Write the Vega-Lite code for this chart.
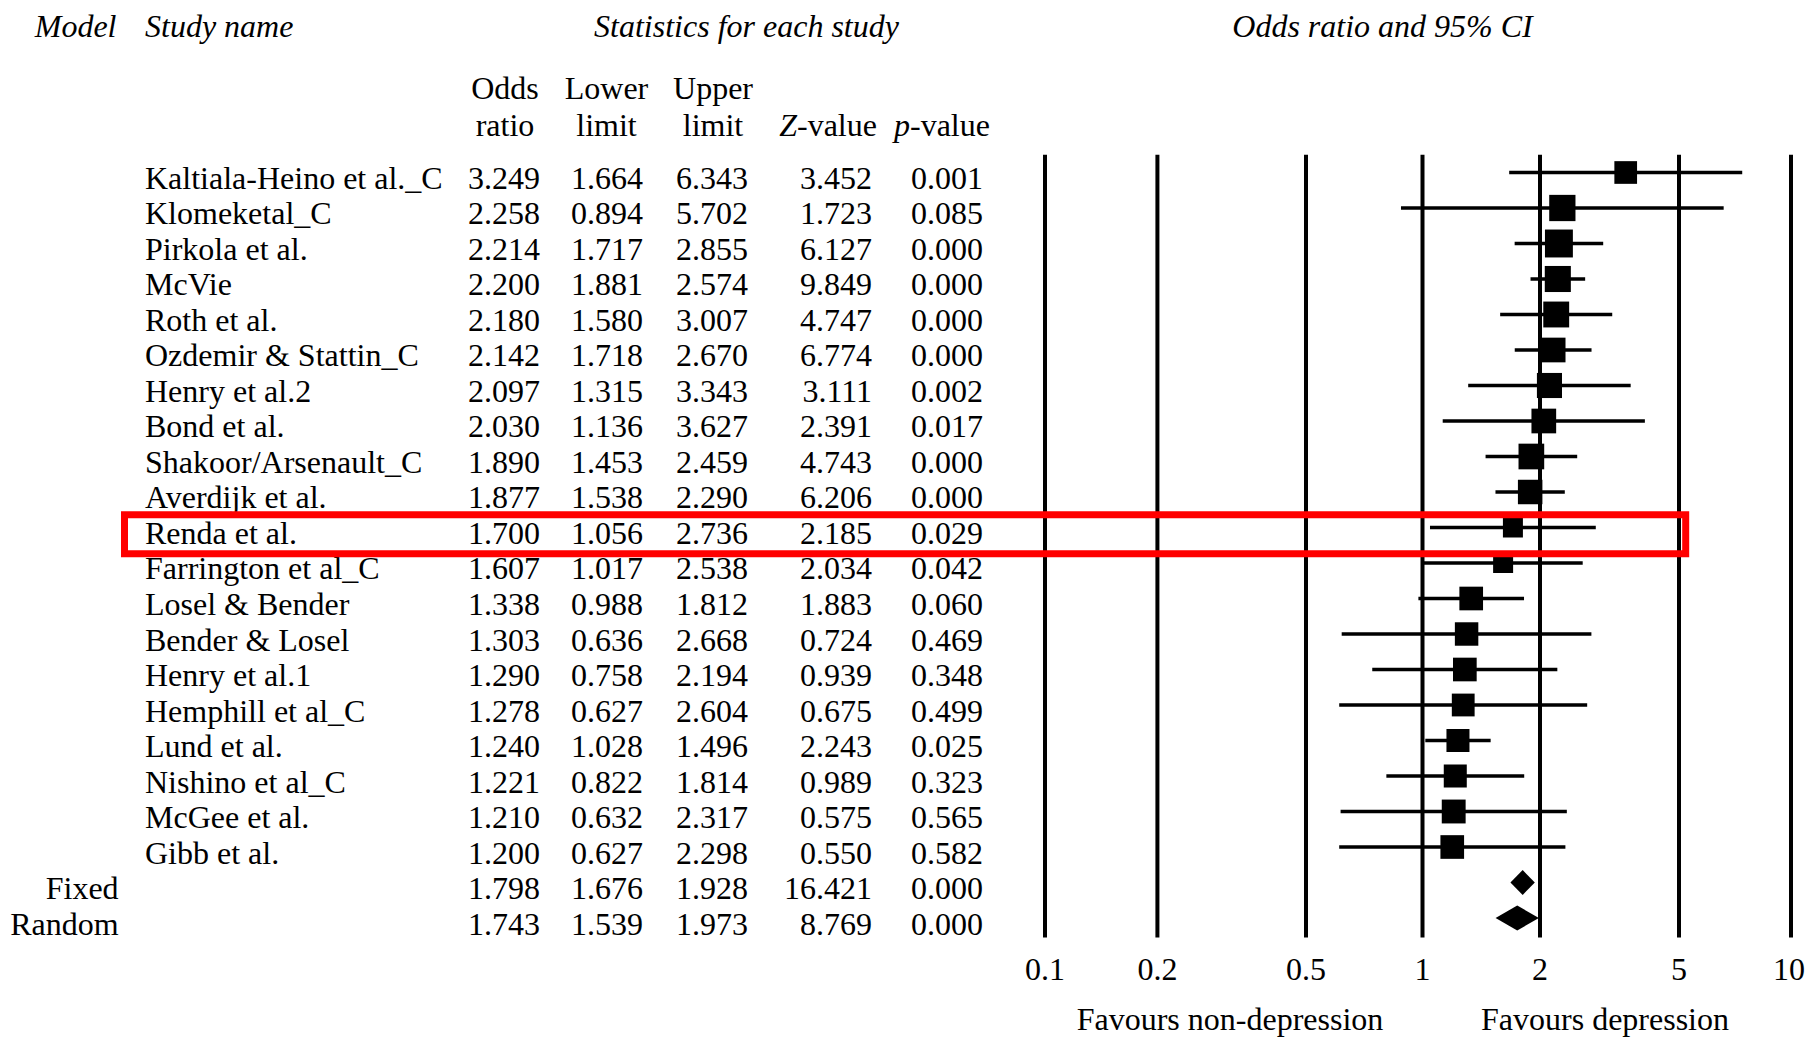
{
  "$schema": "https://vega.github.io/schema/vega-lite/v6.json",
  "width": 1808,
  "height": 1037,
  "autosize": "none",
  "padding": 0,
  "background": "white",
  "config": {
    "view": {"stroke": null},
    "text": {"font": "Liberation Serif", "fontSize": 32, "color": "black"}
  },
  "data": {
    "values": [
      {"row": 1, "study": "Kaltiala-Heino et al._C", "or": 3.249, "lower": 1.664, "upper": 6.343, "z": 3.452, "p": 0.001, "weight": 51.5},
      {"row": 2, "study": "Klomeketal_C", "or": 2.258, "lower": 0.894, "upper": 5.702, "z": 1.723, "p": 0.085, "weight": 69},
      {"row": 3, "study": "Pirkola et al.", "or": 2.214, "lower": 1.717, "upper": 2.855, "z": 6.127, "p": 0.000, "weight": 78},
      {"row": 4, "study": "McVie", "or": 2.200, "lower": 1.881, "upper": 2.574, "z": 9.849, "p": 0.000, "weight": 68},
      {"row": 5, "study": "Roth et al.", "or": 2.180, "lower": 1.580, "upper": 3.007, "z": 4.747, "p": 0.000, "weight": 67},
      {"row": 6, "study": "Ozdemir & Stattin_C", "or": 2.142, "lower": 1.718, "upper": 2.670, "z": 6.774, "p": 0.000, "weight": 61},
      {"row": 7, "study": "Henry et al.2", "or": 2.097, "lower": 1.315, "upper": 3.343, "z": 3.111, "p": 0.002, "weight": 63},
      {"row": 8, "study": "Bond et al.", "or": 2.030, "lower": 1.136, "upper": 3.627, "z": 2.391, "p": 0.017, "weight": 61},
      {"row": 9, "study": "Shakoor/Arsenault_C", "or": 1.890, "lower": 1.453, "upper": 2.459, "z": 4.743, "p": 0.000, "weight": 66},
      {"row": 10, "study": "Averdijk et al.", "or": 1.877, "lower": 1.538, "upper": 2.290, "z": 6.206, "p": 0.000, "weight": 60},
      {"row": 11, "study": "Renda et al.", "or": 1.700, "lower": 1.056, "upper": 2.736, "z": 2.185, "p": 0.029, "weight": 40},
      {"row": 12, "study": "Farrington et al_C", "or": 1.607, "lower": 1.017, "upper": 2.538, "z": 2.034, "p": 0.042, "weight": 40},
      {"row": 13, "study": "Losel & Bender", "or": 1.338, "lower": 0.988, "upper": 1.812, "z": 1.883, "p": 0.060, "weight": 56},
      {"row": 14, "study": "Bender & Losel", "or": 1.303, "lower": 0.636, "upper": 2.668, "z": 0.724, "p": 0.469, "weight": 55},
      {"row": 15, "study": "Henry et al.1", "or": 1.290, "lower": 0.758, "upper": 2.194, "z": 0.939, "p": 0.348, "weight": 56},
      {"row": 16, "study": "Hemphill et al_C", "or": 1.278, "lower": 0.627, "upper": 2.604, "z": 0.675, "p": 0.499, "weight": 52},
      {"row": 17, "study": "Lund et al.", "or": 1.240, "lower": 1.028, "upper": 1.496, "z": 2.243, "p": 0.025, "weight": 53},
      {"row": 18, "study": "Nishino et al_C", "or": 1.221, "lower": 0.822, "upper": 1.814, "z": 0.989, "p": 0.323, "weight": 53},
      {"row": 19, "study": "McGee et al.", "or": 1.210, "lower": 0.632, "upper": 2.317, "z": 0.575, "p": 0.565, "weight": 57},
      {"row": 20, "study": "Gibb et al.", "or": 1.200, "lower": 0.627, "upper": 2.298, "z": 0.550, "p": 0.582, "weight": 56},
      {"row": 21, "model": "Fixed", "or": 1.798, "lower": 1.676, "upper": 1.928, "z": 16.421, "p": 0.000},
      {"row": 22, "model": "Random", "or": 1.743, "lower": 1.539, "upper": 1.973, "z": 8.769, "p": 0.000}
    ]
  },
  "resolve": {"scale": {"x": "independent"}},
  "layer": [
    {
      "layer": [
        {
          "data": {"values": [{"tick": 0.1, "label": "0.1"}, {"tick": 0.2, "label": "0.2"}, {"tick": 0.5, "label": "0.5"}, {"tick": 1, "label": "1"}, {"tick": 2, "label": "2"}, {"tick": 5, "label": "5"}, {"tick": 10, "label": "10"}]},
          "layer": [
            {
              "mark": {"type": "rule", "strokeWidth": 4, "color": "black"},
              "encoding": {
                "x": {"field": "tick", "type": "quantitative", "scale": {"type": "log", "domain": [0.1, 0.5, 1, 2, 5, 10], "range": [1045, 1306, 1422.5, 1540, 1679, 1791], "nice": false}, "axis": null},
                "y": {"datum": 0.5, "type": "quantitative", "scale": {"domain": [-3.859, 25.352], "range": [0, 1037], "nice": false, "zero": false}, "axis": null},
                "y2": {"datum": 22.55}
              }
            },
            {
              "transform": [{"filter": "datum.tick < 10"}],
              "mark": {"type": "text", "align": "center", "baseline": "alphabetic"},
              "encoding": {
                "x": {"field": "tick", "type": "quantitative", "scale": {"type": "log", "domain": [0.1, 0.5, 1, 2, 5, 10], "range": [1045, 1306, 1422.5, 1540, 1679, 1791], "nice": false}, "axis": null},
                "y": {"datum": 23.746, "type": "quantitative", "scale": {"domain": [-3.859, 25.352], "range": [0, 1037], "nice": false, "zero": false}, "axis": null},
                "text": {"field": "label"}
              }
            },
            {
              "transform": [{"filter": "datum.tick >= 10"}],
              "mark": {"type": "text", "align": "right", "baseline": "alphabetic", "dx": 14},
              "encoding": {
                "x": {"field": "tick", "type": "quantitative", "scale": {"type": "log", "domain": [0.1, 0.5, 1, 2, 5, 10], "range": [1045, 1306, 1422.5, 1540, 1679, 1791], "nice": false}, "axis": null},
                "y": {"datum": 23.746, "type": "quantitative", "scale": {"domain": [-3.859, 25.352], "range": [0, 1037], "nice": false, "zero": false}, "axis": null},
                "text": {"field": "label"}
              }
            }
          ]
        }
      ]
    },
    {
      "layer": [
        {
          "transform": [{"filter": "datum.row <= 20"}],
          "mark": {"type": "rule", "strokeWidth": 3.5, "color": "black"},
          "encoding": {
            "x": {"field": "lower", "type": "quantitative", "scale": {"type": "log", "domain": [0.1, 10], "range": [1019.5, 1821.5], "nice": false}, "axis": null},
            "x2": {"field": "upper"},
            "y": {"field": "row", "type": "quantitative", "scale": {"domain": [-3.859, 25.352], "range": [0, 1037], "nice": false, "zero": false}, "axis": null}
          }
        },
        {
          "transform": [{"filter": "datum.row <= 20"}],
          "mark": {"type": "point", "shape": "square", "filled": true, "opacity": 1, "color": "black", "strokeWidth": 0},
          "encoding": {
            "x": {"field": "or", "type": "quantitative", "scale": {"type": "log", "domain": [0.1, 10], "range": [1019.5, 1821.5], "nice": false}, "axis": null},
            "y": {"field": "row", "type": "quantitative", "scale": {"domain": [-3.859, 25.352], "range": [0, 1037], "nice": false, "zero": false}, "axis": null},
            "size": {"field": "weight", "type": "quantitative", "scale": {"domain": [0, 100], "range": [0, 1000]}, "legend": null}
          }
        },
        {
          "transform": [
            {"filter": "datum.row > 20"},
            {"fold": ["lower", "or", "upper"], "as": ["k", "v"]},
            {"calculate": "datum.row - (datum.k == 'or' ? 0.35 : 0)", "as": "ytop"},
            {"calculate": "datum.row + (datum.k == 'or' ? 0.35 : 0)", "as": "ybot"}
          ],
          "mark": {"type": "area", "color": "black", "opacity": 1},
          "encoding": {
            "x": {"field": "v", "type": "quantitative", "scale": {"type": "log", "domain": [0.1, 10], "range": [1019.5, 1821.5], "nice": false}, "axis": null},
            "y": {"field": "ytop", "type": "quantitative", "scale": {"domain": [-3.859, 25.352], "range": [0, 1037], "nice": false, "zero": false}, "axis": null},
            "y2": {"field": "ybot"},
            "detail": {"field": "model"}
          }
        }
      ]
    },
    {
      "layer": [
        {
          "transform": [{"filter": "isValid(datum.model)"}],
          "mark": {"type": "text", "align": "right", "baseline": "alphabetic", "dy": 16.5},
          "encoding": {
            "x": {"datum": 118.6, "type": "quantitative", "scale": {"domain": [0, 1808], "range": [0, 1808], "nice": false, "zero": false}, "axis": null},
            "y": {"field": "row", "type": "quantitative", "scale": {"domain": [-3.859, 25.352], "range": [0, 1037], "nice": false, "zero": false}, "axis": null},
            "text": {"field": "model"}
          }
        },
        {
          "transform": [{"filter": "isValid(datum.study)"}],
          "mark": {"type": "text", "align": "left", "baseline": "alphabetic", "dy": 16.5},
          "encoding": {
            "x": {"datum": 145, "type": "quantitative", "axis": null},
            "y": {"field": "row", "type": "quantitative", "axis": null},
            "text": {"field": "study"}
          }
        },
        {
          "mark": {"type": "text", "align": "right", "baseline": "alphabetic", "dy": 16.5},
          "encoding": {
            "x": {"datum": 540, "type": "quantitative", "axis": null},
            "y": {"field": "row", "type": "quantitative", "axis": null},
            "text": {"field": "or", "format": ".3f"}
          }
        },
        {
          "mark": {"type": "text", "align": "right", "baseline": "alphabetic", "dy": 16.5},
          "encoding": {
            "x": {"datum": 643, "type": "quantitative", "axis": null},
            "y": {"field": "row", "type": "quantitative", "axis": null},
            "text": {"field": "lower", "format": ".3f"}
          }
        },
        {
          "mark": {"type": "text", "align": "right", "baseline": "alphabetic", "dy": 16.5},
          "encoding": {
            "x": {"datum": 748, "type": "quantitative", "axis": null},
            "y": {"field": "row", "type": "quantitative", "axis": null},
            "text": {"field": "upper", "format": ".3f"}
          }
        },
        {
          "mark": {"type": "text", "align": "right", "baseline": "alphabetic", "dy": 16.5},
          "encoding": {
            "x": {"datum": 872, "type": "quantitative", "axis": null},
            "y": {"field": "row", "type": "quantitative", "axis": null},
            "text": {"field": "z", "format": ".3f"}
          }
        },
        {
          "mark": {"type": "text", "align": "right", "baseline": "alphabetic", "dy": 16.5},
          "encoding": {
            "x": {"datum": 983, "type": "quantitative", "axis": null},
            "y": {"field": "row", "type": "quantitative", "axis": null},
            "text": {"field": "p", "format": ".3f"}
          }
        },
        {
          "data": {"values": [{}]},
          "mark": {"type": "text", "align": "right", "baseline": "alphabetic", "fontStyle": "italic", "text": "Model"},
          "encoding": {
            "x": {"datum": 116.5, "type": "quantitative", "axis": null},
            "y": {"datum": -2.825, "type": "quantitative", "axis": null}
          }
        },
        {
          "data": {"values": [{}]},
          "mark": {"type": "text", "align": "left", "baseline": "alphabetic", "fontStyle": "italic", "text": "Study name"},
          "encoding": {
            "x": {"datum": 145, "type": "quantitative", "axis": null},
            "y": {"datum": -2.825, "type": "quantitative", "axis": null}
          }
        },
        {
          "data": {"values": [{}]},
          "mark": {"type": "text", "align": "center", "baseline": "alphabetic", "fontStyle": "italic", "text": "Statistics for each study"},
          "encoding": {
            "x": {"datum": 746.5, "type": "quantitative", "axis": null},
            "y": {"datum": -2.825, "type": "quantitative", "axis": null}
          }
        },
        {
          "data": {"values": [{}]},
          "mark": {"type": "text", "align": "center", "baseline": "alphabetic", "fontStyle": "italic", "text": "Odds ratio and 95% CI"},
          "encoding": {
            "x": {"datum": 1382.5, "type": "quantitative", "axis": null},
            "y": {"datum": -2.825, "type": "quantitative", "axis": null}
          }
        },
        {
          "data": {"values": [{}]},
          "mark": {"type": "text", "align": "center", "baseline": "alphabetic", "text": "Odds"},
          "encoding": {
            "x": {"datum": 505, "type": "quantitative", "axis": null},
            "y": {"datum": -1.07, "type": "quantitative", "axis": null}
          }
        },
        {
          "data": {"values": [{}]},
          "mark": {"type": "text", "align": "center", "baseline": "alphabetic", "text": "ratio"},
          "encoding": {
            "x": {"datum": 505, "type": "quantitative", "axis": null},
            "y": {"datum": -0.028, "type": "quantitative", "axis": null}
          }
        },
        {
          "data": {"values": [{}]},
          "mark": {"type": "text", "align": "center", "baseline": "alphabetic", "text": "Lower"},
          "encoding": {
            "x": {"datum": 606.5, "type": "quantitative", "axis": null},
            "y": {"datum": -1.07, "type": "quantitative", "axis": null}
          }
        },
        {
          "data": {"values": [{}]},
          "mark": {"type": "text", "align": "center", "baseline": "alphabetic", "text": "limit"},
          "encoding": {
            "x": {"datum": 606.5, "type": "quantitative", "axis": null},
            "y": {"datum": -0.028, "type": "quantitative", "axis": null}
          }
        },
        {
          "data": {"values": [{}]},
          "mark": {"type": "text", "align": "center", "baseline": "alphabetic", "text": "Upper"},
          "encoding": {
            "x": {"datum": 713, "type": "quantitative", "axis": null},
            "y": {"datum": -1.07, "type": "quantitative", "axis": null}
          }
        },
        {
          "data": {"values": [{}]},
          "mark": {"type": "text", "align": "center", "baseline": "alphabetic", "text": "limit"},
          "encoding": {
            "x": {"datum": 713, "type": "quantitative", "axis": null},
            "y": {"datum": -0.028, "type": "quantitative", "axis": null}
          }
        },
        {
          "data": {"values": [{}]},
          "mark": {"type": "text", "align": "right", "baseline": "alphabetic", "fontStyle": "italic", "text": "Z"},
          "encoding": {
            "x": {"datum": 797, "type": "quantitative", "axis": null},
            "y": {"datum": -0.028, "type": "quantitative", "axis": null}
          }
        },
        {
          "data": {"values": [{}]},
          "mark": {"type": "text", "align": "left", "baseline": "alphabetic", "text": "-value"},
          "encoding": {
            "x": {"datum": 797, "type": "quantitative", "axis": null},
            "y": {"datum": -0.028, "type": "quantitative", "axis": null}
          }
        },
        {
          "data": {"values": [{}]},
          "mark": {"type": "text", "align": "right", "baseline": "alphabetic", "fontStyle": "italic", "text": "p"},
          "encoding": {
            "x": {"datum": 910, "type": "quantitative", "axis": null},
            "y": {"datum": -0.028, "type": "quantitative", "axis": null}
          }
        },
        {
          "data": {"values": [{}]},
          "mark": {"type": "text", "align": "left", "baseline": "alphabetic", "text": "-value"},
          "encoding": {
            "x": {"datum": 910, "type": "quantitative", "axis": null},
            "y": {"datum": -0.028, "type": "quantitative", "axis": null}
          }
        },
        {
          "data": {"values": [{}]},
          "mark": {"type": "text", "align": "center", "baseline": "alphabetic", "text": "Favours non-depression"},
          "encoding": {
            "x": {"datum": 1230, "type": "quantitative", "axis": null},
            "y": {"datum": 25.155, "type": "quantitative", "axis": null}
          }
        },
        {
          "data": {"values": [{}]},
          "mark": {"type": "text", "align": "center", "baseline": "alphabetic", "text": "Favours depression"},
          "encoding": {
            "x": {"datum": 1605, "type": "quantitative", "axis": null},
            "y": {"datum": 25.155, "type": "quantitative", "axis": null}
          }
        },
        {
          "data": {"values": [{}]},
          "mark": {"type": "rect", "filled": false, "stroke": "#ff0000", "strokeWidth": 7},
          "encoding": {
            "x": {"datum": 124.5, "type": "quantitative", "axis": null},
            "x2": {"datum": 1685.7},
            "y": {"datum": 10.64, "type": "quantitative", "axis": null},
            "y2": {"datum": 11.74}
          }
        }
      ]
    }
  ]
}
